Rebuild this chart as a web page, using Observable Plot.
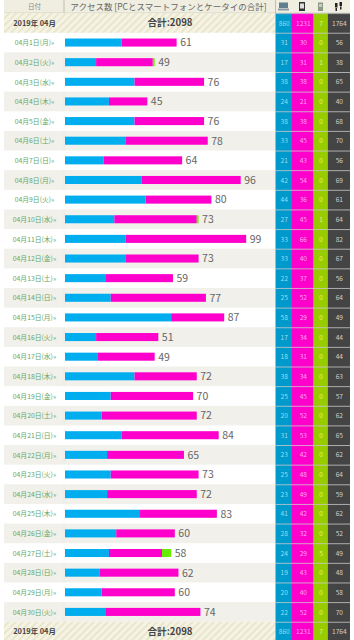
<!DOCTYPE html>
<html lang="ja">
<head>
<meta charset="utf-8">
<script src="https://cdn.jsdelivr.net/npm/d3@7"></script>
<script src="https://cdn.jsdelivr.net/npm/@observablehq/plot@0.6"></script>
<style>html,body{margin:0;padding:0;background:#fff;overflow:hidden}svg{display:block}</style>
</head>
<body>
<div id="chart"></div>
<script>
const weekdays = ["月","火","水","木","金","土","日"];
const pcViews = [31,17,38,24,38,33,21,42,44,27,33,33,22,25,58,17,18,38,25,20,31,23,25,23,41,28,24,19,20,22];
const phoneViews = [30,31,38,21,38,45,43,54,36,45,66,40,37,52,29,34,31,34,45,52,53,42,48,49,42,32,29,43,40,52];
const mobileViews = [0,1,0,0,0,0,0,0,0,1,0,0,0,0,0,0,0,0,0,0,0,0,0,0,0,0,5,0,0,0];
const visitors = [56,38,65,40,68,70,56,69,61,64,82,67,56,64,49,44,44,63,57,62,65,62,64,59,62,52,49,48,58,70];
const totals = {pc:"860", phone:"1231", mobile:"7", visitors:"1764", all:"合計:2098", month:"2019年 04月"};
const headerDate = "日付";
const headerTitle = "アクセス数 [PCとスマートフォンとケータイの合計]";

const FONT = "'Noto Sans CJK JP','Noto Sans',sans-serif";
const W = 354, H = 640, X0 = 65, K = 1.83;
const u = px => (px - X0) / K;            // pixels -> x units (page layout helper)
const HEAD = -0.667, END = 31.93;         // rows: header < 0, total 0..1, days 1..31, footer 31..32

const rows = pcViews.map((pc, i) => {
  const phone = phoneViews[i], mobile = mobileViews[i], day = i + 1;
  return {day, pc, phone, mobile, sum: pc + phone + mobile, visitors: visitors[i],
    label: `04月${day}日(${weekdays[i % 7]})»`, y1: day, y2: day + 1, yc: day + 0.5};
});
const barPad = 0.295;
const segs = rows.flatMap(r => [
  {x1: 0, x2: r.pc, fill: "#00aeef", r},
  {x1: r.pc, x2: r.pc + r.phone, fill: "#ff00cc", r},
  {x1: r.pc + r.phone, x2: r.sum, fill: "#66ee00", r}
]).filter(s => s.x2 > s.x1);

const cols = [
  {x1: 275.5, x2: 292, fill: "#0099cc", text: "#9fdcf2", key: "pc", total: totals.pc},
  {x1: 292, x2: 313.7, fill: "#ff00cc", text: "#ffa8ea", key: "phone", total: totals.phone},
  {x1: 313.7, x2: 327.7, fill: "#99cc00", text: "#dcef9a", key: "mobile", total: totals.mobile},
  {x1: 327.7, x2: 350, fill: "#444444", text: "#cfcfcf", key: "visitors", total: totals.visitors}
];
const cells = cols.flatMap(c => [
  ...rows.map(r => ({c, v: String(c.key === "visitors" ? r.visitors : r[c.key]), yc: r.yc})),
  {c, v: c.total, yc: 0.5}, {c, v: c.total, yc: 31.5}
]);
const totalBands = [{y1: 0, y2: 1}, {y1: 31, y2: 32}];
const dy = v => v / 19.63;   // pixels -> row units
const hy = px => HEAD + dy(px);
const icons = [
  {x1: 279, x2: 288, p1: 2.5, p2: 8, fill: "#5f7f8f"}, {x1: 278, x2: 289, p1: 8.5, p2: 10.5, fill: "#8a9aa2"},
  {x1: 299, x2: 305, p1: 2, p2: 11, fill: "#333333"}, {x1: 300, x2: 304, p1: 3.5, p2: 8.5, fill: "#dddddd"},
  {x1: 318, x2: 323, p1: 2.5, p2: 11, fill: "#8f9a86"}, {x1: 319, x2: 322, p1: 4, p2: 7, fill: "#c5d0bc"},
  {x1: 335, x2: 337.5, p1: 3, p2: 7.5, fill: "#222222"}, {x1: 335.5, x2: 337, p1: 8, p2: 11, fill: "#222222"},
  {x1: 339.5, x2: 342, p1: 2, p2: 6, fill: "#222222"}, {x1: 340, x2: 341.5, p1: 6.5, p2: 9.5, fill: "#222222"}
];

const chart = Plot.plot({
  width: W, height: H, margin: 0,
  x: {domain: [u(0), u(W)], range: [0, W], axis: null},
  y: {domain: [HEAD, END], range: [0, H], axis: null},
  marks: [
    // header
    Plot.rect([{}], {x1: u(4), x2: u(350), y1: HEAD, y2: 0, fill: "#efeee0"}),
    Plot.ruleX([u(63.5), u(275)], {y1: HEAD, y2: 0, stroke: "#b5b3a0", strokeWidth: 0.8}),
    Plot.ruleY([-0.02], {x1: u(4), x2: u(350), stroke: "#c8c6b2", strokeWidth: 1}),
    Plot.text([headerDate], {x: u(34), y: HEAD / 2, text: d => d, fontSize: 6.5, fill: "#888", fontFamily: FONT}),
    Plot.text([headerTitle], {x: u(168), y: HEAD / 2, text: d => d, fontSize: 8.5, fill: "#666", fontFamily: FONT}),
    Plot.rect(icons, {x1: d => u(d.x1), x2: d => u(d.x2), y1: d => hy(d.p1), y2: d => hy(d.p2), fill: "fill"}),
    // alternating rows
    Plot.rect(rows.filter(r => r.day % 2 === 0), {x1: u(4), x2: u(275.5), y1: "y1", y2: "y2", fill: "#f1f0ea"}),
    Plot.ruleX(rows.filter(r => r.day % 2 === 0), {x: u(63.5), y1: "y1", y2: "y2", stroke: "#e8e7df", strokeWidth: 0.6}),
    // total bands
    Plot.rect(totalBands, {x1: u(4), x2: u(275.5), y1: "y1", y2: "y2", fill: "#f5f3e4"}),
    Plot.rect(totalBands, {x1: u(4), x2: u(275.5), y1: "y1", y2: "y2", fill: "url(#hatch)"}),
    Plot.text(totalBands, {x: u(34), y: d => d.y1 + 0.5, text: () => totals.month, fontSize: 7.4, fontWeight: 700, fill: "#444", fontFamily: FONT}),
    Plot.text(totalBands, {x: u(169.5), y: d => d.y1 + 0.5, text: () => totals.all, fontSize: 9.6, fontWeight: 700, fill: "#444", fontFamily: FONT}),
    // date labels
    Plot.text(rows, {x: u(34), y: "yc", text: "label", fontSize: 6.8, fill: "#5fa868", fontFamily: FONT}),
    // bars
    Plot.rect(segs, {x1: "x1", x2: "x2", y1: d => d.r.y1 + barPad, y2: d => d.r.y2 - barPad, fill: "fill"}),
    Plot.text(rows, {x: "sum", y: "yc", text: "sum", dx: 3, textAnchor: "start", fontSize: 10.5, fill: "#666", fontFamily: FONT}),
    // value columns
    Plot.rect(cols, {x1: d => u(d.x1), x2: d => u(d.x2), y1: 0, y2: 32, fill: "fill"}),
    Plot.ruleY(d3.range(0, 33), {x1: u(275.5), x2: u(350), stroke: "#c9c9c9", strokeWidth: 0.8}),
    Plot.text(cells, {x: d => u((d.c.x1 + d.c.x2) / 2), y: "yc", text: "v", fontSize: 6.6, fill: d => d.c.text, fontFamily: FONT})
  ]
});

const ns = "http://www.w3.org/2000/svg";
const defs = document.createElementNS(ns, "defs");
defs.innerHTML = `<pattern id="hatch" width="5" height="5" patternUnits="userSpaceOnUse" patternTransform="rotate(45)"><rect width="2" height="5" fill="#e9e6cd"/></pattern>`;
chart.insertBefore(defs, chart.firstChild);
document.getElementById("chart").appendChild(chart);
</script>
</body>
</html>
